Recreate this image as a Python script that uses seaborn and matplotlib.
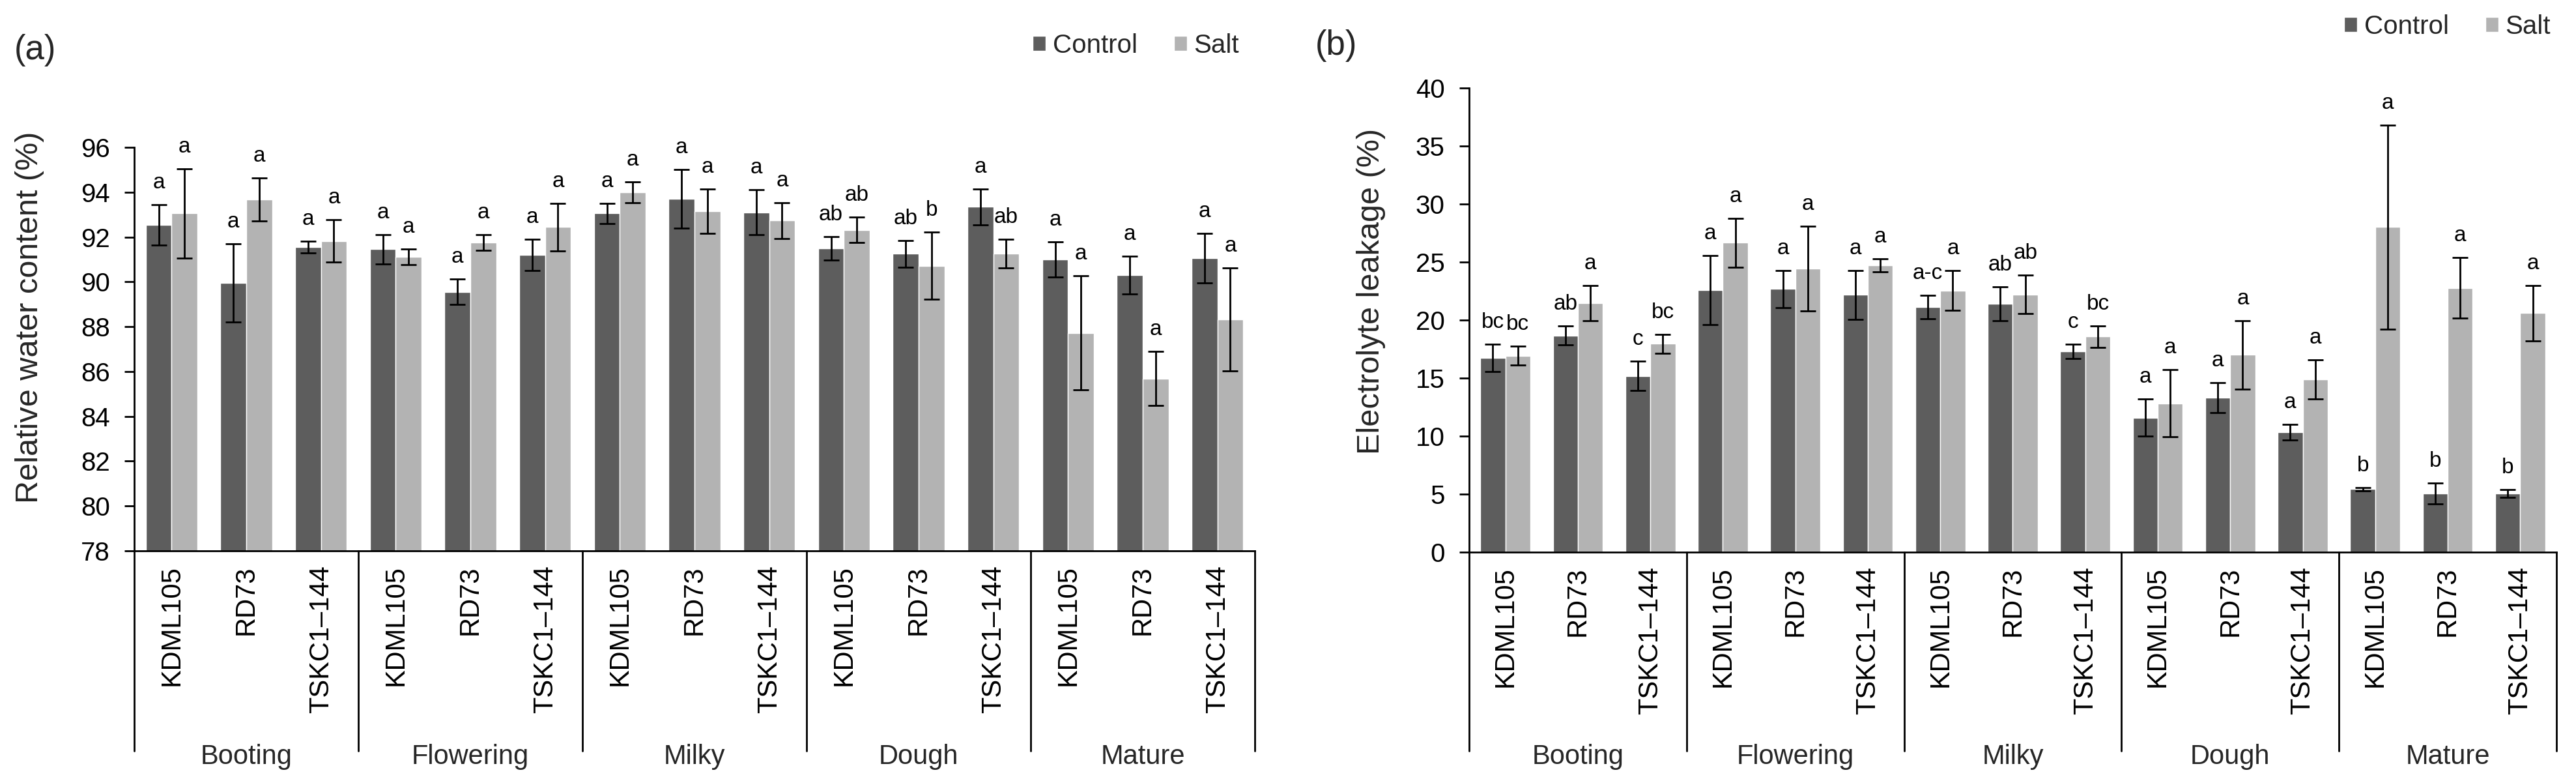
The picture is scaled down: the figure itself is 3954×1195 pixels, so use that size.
import numpy as np
import pandas as pd
import matplotlib
matplotlib.use("Agg")
import matplotlib.pyplot as plt
import seaborn as sns
from matplotlib.transforms import blended_transform_factory

# ---------------- data ----------------
stages = ["Booting", "Flowering", "Milky", "Dough", "Mature"]
cultivars = ["KDML105", "RD73", "TSKC1\u2013144"]
treatments = ["Control", "Salt"]

rwc_control = [92.55, 89.95, 91.55, 91.45, 89.55, 91.2, 93.05, 93.7, 93.1, 91.5, 91.25, 93.35, 91.0, 90.3, 91.05]
rwc_control_err = [0.9, 1.75, 0.25, 0.65, 0.57, 0.7, 0.45, 1.3, 1.0, 0.52, 0.6, 0.8, 0.78, 0.83, 1.1]
rwc_salt = [93.05, 93.67, 91.82, 91.11, 91.75, 92.44, 93.99, 93.15, 92.73, 92.32, 90.72, 91.26, 87.72, 85.69, 88.32]
rwc_salt_err = [2.0, 0.95, 0.95, 0.35, 0.35, 1.07, 0.46, 1.0, 0.8, 0.58, 1.5, 0.64, 2.55, 1.2, 2.3]
rwc_control_letters = ["a", "a", "a", "a", "a", "a", "a", "a", "a", "ab", "ab", "a", "a", "a", "a"]
rwc_salt_letters = ["a", "a", "a", "a", "a", "a", "a", "a", "a", "ab", "b", "ab", "a", "a", "a"]

el_control = [16.75, 18.67, 15.19, 22.58, 22.68, 22.17, 21.12, 21.4, 17.3, 11.6, 13.32, 10.33, 5.43, 5.05, 5.05]
el_control_err = [1.17, 0.8, 1.25, 3.0, 1.6, 2.1, 1.03, 1.45, 0.6, 1.6, 1.28, 0.66, 0.15, 0.9, 0.35]
el_salt = [16.93, 21.46, 17.95, 26.67, 24.42, 24.74, 22.55, 22.2, 18.57, 12.82, 17.0, 14.89, 28.02, 22.77, 20.6]
el_salt_err = [0.8, 1.5, 0.8, 2.1, 3.65, 0.56, 1.7, 1.65, 0.93, 2.9, 2.95, 1.68, 8.8, 2.6, 2.4]
el_control_letters = ["bc", "ab", "c", "a", "a", "a", "a-c", "ab", "c", "a", "a", "a", "b", "b", "b"]
el_salt_letters = ["bc", "a", "bc", "a", "a", "a", "a", "ab", "bc", "a", "a", "a", "a", "a", "a"]

rwc_ticks = list(range(78, 97, 2))
el_ticks = list(range(0, 41, 5))

# ---------------- style ----------------
sns.set_theme(style="white")
plt.rcParams["font.family"] = ["Liberation Sans", "DejaVu Sans"]
C_CTRL = "#5d5d5d"
C_SALT = "#b3b3b3"

W, H = 3955, 1195
fig = plt.figure(figsize=(W / 100, H / 100), dpi=100)

keys = [f"{s}|{c}" for s in stages for c in cultivars]
tick_labels = [c for s in stages for c in cultivars]


def fx(px):
    return px / W


def fy(py):
    return 1 - py / H


def panel(rect_px, ctrl, ctrl_err, salt, salt_err, lc, ls, ylim, yticks, ylabel, label_xy, leg_xy):
    l, t, r, b = rect_px
    ax = fig.add_axes([fx(l), fy(b), fx(r) - fx(l), fy(t) - fy(b)])
    df = pd.DataFrame({
        "key": keys * 2,
        "treatment": ["Control"] * len(keys) + ["Salt"] * len(keys),
        "value": list(ctrl) + list(salt),
    })
    sns.barplot(data=df, x="key", y="value", hue="treatment", order=keys,
                hue_order=treatments, palette=[C_CTRL, C_SALT], width=0.69,
                errorbar=None, saturation=1, ax=ax)
    handles, labels = ax.get_legend_handles_labels()
    if ax.get_legend() is not None:
        ax.get_legend().remove()

    for cont, vals, errs, lets in zip(ax.containers, [ctrl, salt], [ctrl_err, salt_err], [lc, ls]):
        xs = [p.get_x() + p.get_width() / 2 for p in cont.patches]
        ax.errorbar(xs, vals, yerr=errs, fmt="none", ecolor="black",
                    elinewidth=2.0, capsize=8.5, capthick=2.0, zorder=5, clip_on=False)
        for x, v, e, s in zip(xs, vals, errs, lets):
            ax.annotate(s, xy=(x, v + e), xytext=(0, 18), textcoords="offset points",
                        ha="center", va="baseline", fontsize=24, color="black",
                        annotation_clip=False)

    ax.set_xlim(-0.5, len(keys) - 0.5)
    ax.set_ylim(*ylim)
    ax.set_yticks(yticks)
    ax.set_yticklabels([str(v) for v in yticks])
    ax.set_xticks(range(len(keys)))
    ax.set_xticklabels(tick_labels, rotation=90)
    ax.set_xlabel("")
    ax.set_ylabel(ylabel, fontsize=35)
    ax.yaxis.set_label_coords(*label_xy)
    ax.yaxis.label.set_va("center")
    for sp in ["top", "right"]:
        ax.spines[sp].set_visible(False)
    for sp in ["left", "bottom"]:
        ax.spines[sp].set_visible(True)
        ax.spines[sp].set_color("black")
        ax.spines[sp].set_linewidth(2.0)
    ax.tick_params(axis="y", direction="out", length=10.8, width=2.0, pad=16,
                   labelsize=29, left=True, colors="black")
    ax.tick_params(axis="x", length=0, pad=16, labelsize=30, colors="black")
    ax.grid(False)

    # group separators and stage labels below the axis
    tr = blended_transform_factory(ax.transData, fig.transFigure)
    y0, y1 = fy(b), fy(1152)
    for xs in [-0.5, 2.5, 5.5, 8.5, 11.5, 14.5]:
        ax.plot([xs, xs], [y0, y1], color="black", lw=2.0, transform=tr, clip_on=False)
    for i, s in enumerate(stages):
        ax.text(3 * i + 1, fy(1172), s, transform=tr, ha="center", va="baseline", fontsize=30)

    fig.legend(handles, labels, loc="center left", bbox_to_anchor=leg_xy,
               bbox_transform=fig.transFigure, ncol=2, frameon=False, fontsize=29,
               handlelength=0.5, handleheight=0.5, handletextpad=0.26,
               columnspacing=1.4, borderpad=0, borderaxespad=0)
    return ax


ax1 = panel((206, 226, 1926, 845), rwc_control, rwc_control_err, rwc_salt, rwc_salt_err,
            rwc_control_letters, rwc_salt_letters, (78, 96), rwc_ticks,
            "Relative water content (%)", (-0.0936, 0.578), (fx(1585), fy(70)))
ax2 = panel((2255, 135, 3924, 847), el_control, el_control_err, el_salt, el_salt_err,
            el_control_letters, el_salt_letters, (0, 40), el_ticks,
            "Electrolyte leakage (%)", (-0.0899, 0.562), (fx(3598), fy(41)))

fig.text(fx(22), fy(77), "(a)", fontsize=38, va="center", ha="left")
fig.text(fx(2019), fy(70), "(b)", fontsize=38, va="center", ha="left")

fig.savefig("out.png", dpi=100)
